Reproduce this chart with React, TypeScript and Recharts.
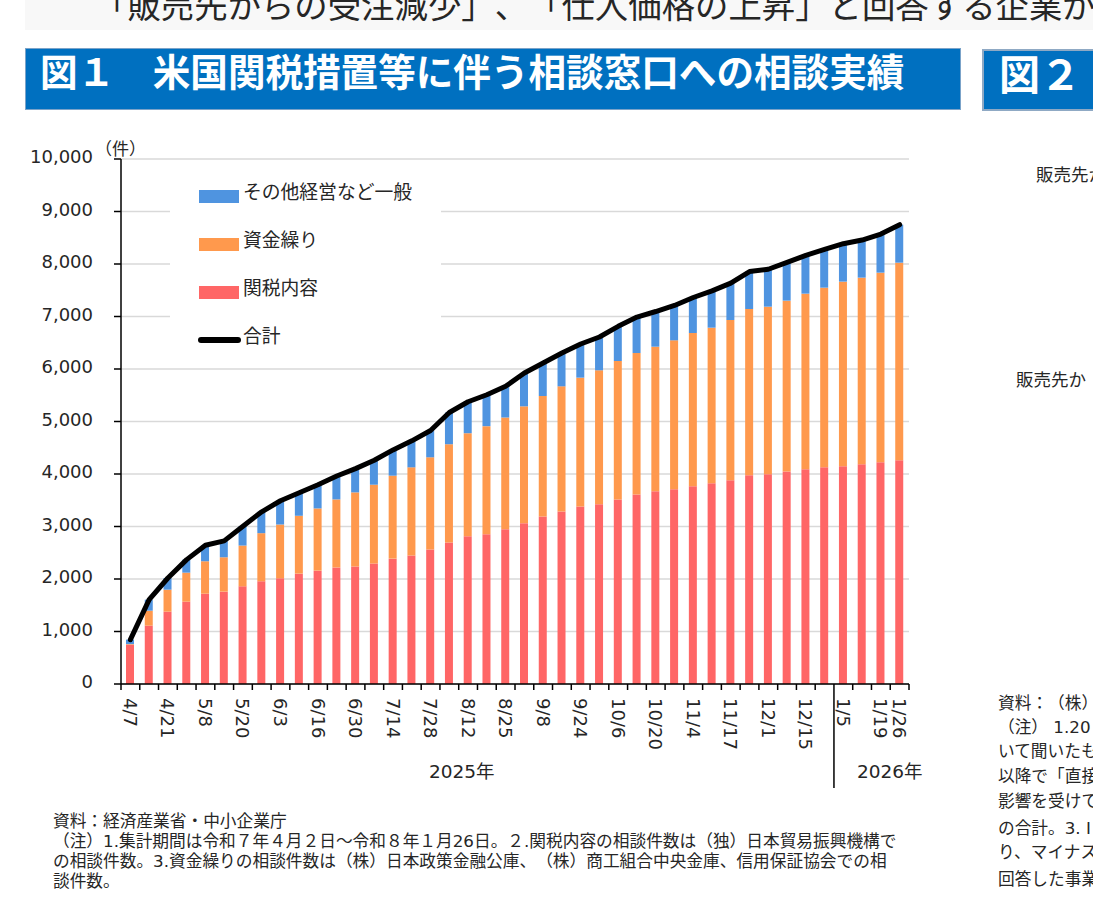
import { ComposedChart, Bar, Line, XAxis, YAxis, CartesianGrid, Legend } from "recharts";

const dateLabels = [
  "4/7", "", "4/21", "", "5/8", "", "5/20", "", "6/3", "", "6/16", "", "6/30", "", "7/14", "", "7/28", "", "8/12", "", "8/25",
  "", "9/8", "", "9/24", "", "10/6", "", "10/20", "", "11/4", "", "11/17", "", "12/1", "", "12/15", "", "1/5", "", "1/19", "1/26",
];
const tariff = [
  749, 1111, 1378, 1568, 1720, 1759, 1860, 1956, 2013, 2102, 2159, 2220, 2238, 2295, 2388, 2446, 2560, 2694, 2815, 2854, 2949,
  3063, 3190, 3285, 3380, 3425, 3514, 3610, 3673, 3711, 3768, 3825, 3883, 3978, 3997, 4048, 4092, 4130, 4149, 4187, 4225, 4263,
];
const funding = [
  11, 286, 419, 553, 618, 655, 777, 917, 1025, 1102, 1185, 1296, 1412, 1501, 1580, 1681, 1758, 1873, 1962, 2057, 2127,
  2226, 2296, 2385, 2455, 2550, 2638, 2695, 2752, 2835, 2918, 2962, 3050, 3165, 3190, 3254, 3343, 3419, 3515, 3553, 3610, 3762,
];
const other = [
  85, 209, 222, 248, 305, 312, 369, 407, 452, 439, 452, 446, 452, 465, 491, 504, 510, 605, 599, 599, 594,
  635, 628, 635, 641, 635, 661, 685, 670, 664, 676, 702, 702, 714, 713, 728, 730, 731, 723, 717, 736, 724,
];
const total = [
  845, 1606, 2019, 2369, 2643, 2726, 3006, 3280, 3490, 3643, 3796, 3962, 4102, 4261, 4459, 4631, 4828, 5172, 5376, 5510, 5670,
  5924, 6114, 6305, 6476, 6610, 6813, 6990, 7095, 7210, 7362, 7489, 7635, 7857, 7900, 8030, 8165, 8280, 8387, 8457, 8571, 8749,
];
const yTicks = [0, 1000, 2000, 3000, 4000, 5000, 6000, 7000, 8000, 9000, 10000];

const chartData = dateLabels.map((label, i) => ({
  label,
  tariff: tariff[i],
  funding: funding[i],
  other: other[i],
  total: total[i],
}));

const FONT = '"DejaVu Sans", "Noto Sans CJK JP", sans-serif';
const JP = '"Noto Sans CJK JP", sans-serif';
const TEXT = "#262626";
const BLUE = "#4f94e0";
const ORANGE = "#ff994d";
const RED = "#ff6666";
const YEAR_SPLIT = 38;
const BAND = 788 / dateLabels.length;

const legendRows = [
  { name: "その他経営など一般", color: BLUE, top: 20, textTop: 23 },
  { name: "資金繰り", color: ORANGE, top: 68, textTop: 71 },
  { name: "関税内容", color: RED, top: 116, textTop: 119 },
];

function ChartLegend() {
  return (
    <div style={{ position: "relative", width: 271, height: 185, background: "#fff", fontFamily: FONT, color: TEXT }}>
      {legendRows.map((r) => (
        <div key={r.name}>
          <div style={{ position: "absolute", left: 29, top: r.top, width: 40, height: 12.5, background: r.color }} />
          <div style={{ position: "absolute", left: 73, top: r.textTop - 14, fontSize: 18.8, lineHeight: "28px", whiteSpace: "nowrap" }}>{r.name}</div>
        </div>
      ))}
      <div style={{ position: "absolute", left: 28, top: 167, width: 43, height: 6, borderRadius: 3, background: "#000" }} />
      <div style={{ position: "absolute", left: 73, top: 153, fontSize: 18.8, lineHeight: "28px" }}>合計</div>
    </div>
  );
}

function DateTick({ x, y, index, payload }: any) {
  const left = x - BAND / 2;
  const isLast = index === dateLabels.length - 1;
  return (
    <g>
      <line x1={left} x2={left} y1={y} y2={index === YEAR_SPLIT ? y + 104 : y + 6} stroke="#000" strokeWidth={1.5} />
      {isLast && <line x1={x + BAND / 2} x2={x + BAND / 2} y1={y} y2={y + 6} stroke="#000" strokeWidth={1.5} />}
      <text
        x={x}
        y={y + 14}
        transform={`rotate(90 ${x} ${y + 14})`}
        textAnchor="start"
        dominantBaseline="central"
        fontSize={18}
        fontFamily={FONT}
        fill={TEXT}
      >
        {payload.value}
      </text>
    </g>
  );
}

function Note({ x, y, size, text }: { x: number; y: number; size?: number; text: string }) {
  return (
    <div style={{ position: "absolute", left: x, top: y - 12, fontSize: size ?? 16.7, lineHeight: "24px", whiteSpace: "nowrap", fontFamily: FONT, color: TEXT }}>
      {text}
    </div>
  );
}

const leftNotes = [
  { y: 821, text: "資料：経済産業省・中小企業庁" },
  { y: 841, text: "（注）1.集計期間は令和７年４月２日～令和８年１月26日。２.関税内容の相談件数は（独）日本貿易振興機構で" },
  { y: 861, text: "の相談件数。3.資金繰りの相談件数は（株）日本政策金融公庫、（株）商工組合中央金庫、信用保証協会での相" },
  { y: 881, text: "談件数。" },
];
const rightNotes = [
  { y: 703, text: "資料：（株）" },
  { y: 727, text: "（注） 1.20" },
  { y: 751, text: "いて聞いたも" },
  { y: 776, text: "以降で「直接" },
  { y: 801, text: "影響を受けて" },
  { y: 828, text: "の合計。3. I" },
  { y: 852, text: "り、マイナス" },
  { y: 879, text: "回答した事業" },
];

export default function App() {
  return (
    <div style={{ position: "fixed", left: 0, top: 0, width: 1093, height: 899, overflow: "hidden", background: "#fff", textSpacingTrim: "space-all" } as any}>
      <div style={{ position: "absolute", left: 25, top: 0, width: 1068, height: 30, background: "#f8f8f8" }} />
      <div style={{ position: "absolute", left: 94, top: -20, fontSize: 33.4, lineHeight: "48px", whiteSpace: "nowrap", fontFamily: JP, color: TEXT }}>
        「販売先からの受注減少」、「仕入価格の上昇」と回答する企業が
      </div>

      <div style={{ position: "absolute", left: 25, top: 48, width: 936, height: 62, boxSizing: "border-box", background: "#0070c0", border: "1px solid #7ba3c9" }} />
      <div style={{ position: "absolute", left: 40, top: 45, fontSize: 37.6, lineHeight: "50px", fontWeight: 700, color: "#fff", whiteSpace: "nowrap", fontFamily: JP }}>
        図１　米国関税措置等に伴う相談窓口への相談実績
      </div>
      <div style={{ position: "absolute", left: 982, top: 49, width: 130, height: 62, boxSizing: "border-box", background: "#0070c0", border: "2px solid #8fa9c4" }} />
      <div style={{ position: "absolute", left: 999, top: 46, fontSize: 41, lineHeight: "52px", fontWeight: 700, color: "#fff", whiteSpace: "nowrap", fontFamily: JP }}>
        図２
      </div>

      <ComposedChart width={1093} height={899} data={chartData} margin={{ top: 159, right: 184, bottom: 115, left: 0 }} style={{ position: "absolute", left: 0, top: 0 }}>
        <CartesianGrid horizontal vertical={false} stroke="#d9d9d9" strokeWidth={1.5} />
        <XAxis dataKey="label" interval={0} height={100} tickSize={0} tickMargin={0} tickLine={false} axisLine={{ stroke: "#000", strokeWidth: 1.5 }} tick={<DateTick />} />
        <YAxis
          width={121}
          domain={[0, 10000]}
          ticks={yTicks}
          interval={0}
          tickSize={7}
          tickMargin={21}
          tickFormatter={(v: number) => v.toLocaleString("en-US")}
          axisLine={{ stroke: "#000", strokeWidth: 1.5 }}
          tickLine={{ stroke: "#000", strokeWidth: 1.5 }}
          tick={{ fontSize: 18, fontFamily: FONT, fill: TEXT, dy: -2 }}
        />
        <Legend layout="vertical" align="center" verticalAlign="middle" content={<ChartLegend />} wrapperStyle={{ left: 170, top: 170, width: 271, height: 185 }} />
        <Bar dataKey="tariff" name="関税内容" stackId="a" fill={RED} barSize={8} isAnimationActive={false} />
        <Bar dataKey="funding" name="資金繰り" stackId="a" fill={ORANGE} barSize={8} isAnimationActive={false} />
        <Bar dataKey="other" name="その他経営など一般" stackId="a" fill={BLUE} barSize={8} isAnimationActive={false} />
        <Line dataKey="total" name="合計" type="linear" stroke="#000" strokeWidth={5} strokeLinecap="round" strokeLinejoin="round" dot={false} isAnimationActive={false} />
      </ComposedChart>

      <div style={{ position: "absolute", left: 95, top: 137, fontSize: 17, lineHeight: "24px", fontFamily: FONT, color: TEXT }}>（件）</div>
      <div style={{ position: "absolute", left: 429, top: 759, fontSize: 18.5, lineHeight: "26px", fontFamily: FONT, color: TEXT }}>2025年</div>
      <div style={{ position: "absolute", left: 857, top: 759, fontSize: 18.5, lineHeight: "26px", fontFamily: FONT, color: TEXT }}>2026年</div>

      {leftNotes.map((n) => <Note key={n.y} x={53} y={n.y} text={n.text} />)}
      {rightNotes.map((n) => <Note key={n.y} x={998} y={n.y} text={n.text} />)}
      <Note x={1036} y={175} size={17.5} text="販売先か" />
      <Note x={1016} y={380} size={17.5} text="販売先か" />
    </div>
  );
}
